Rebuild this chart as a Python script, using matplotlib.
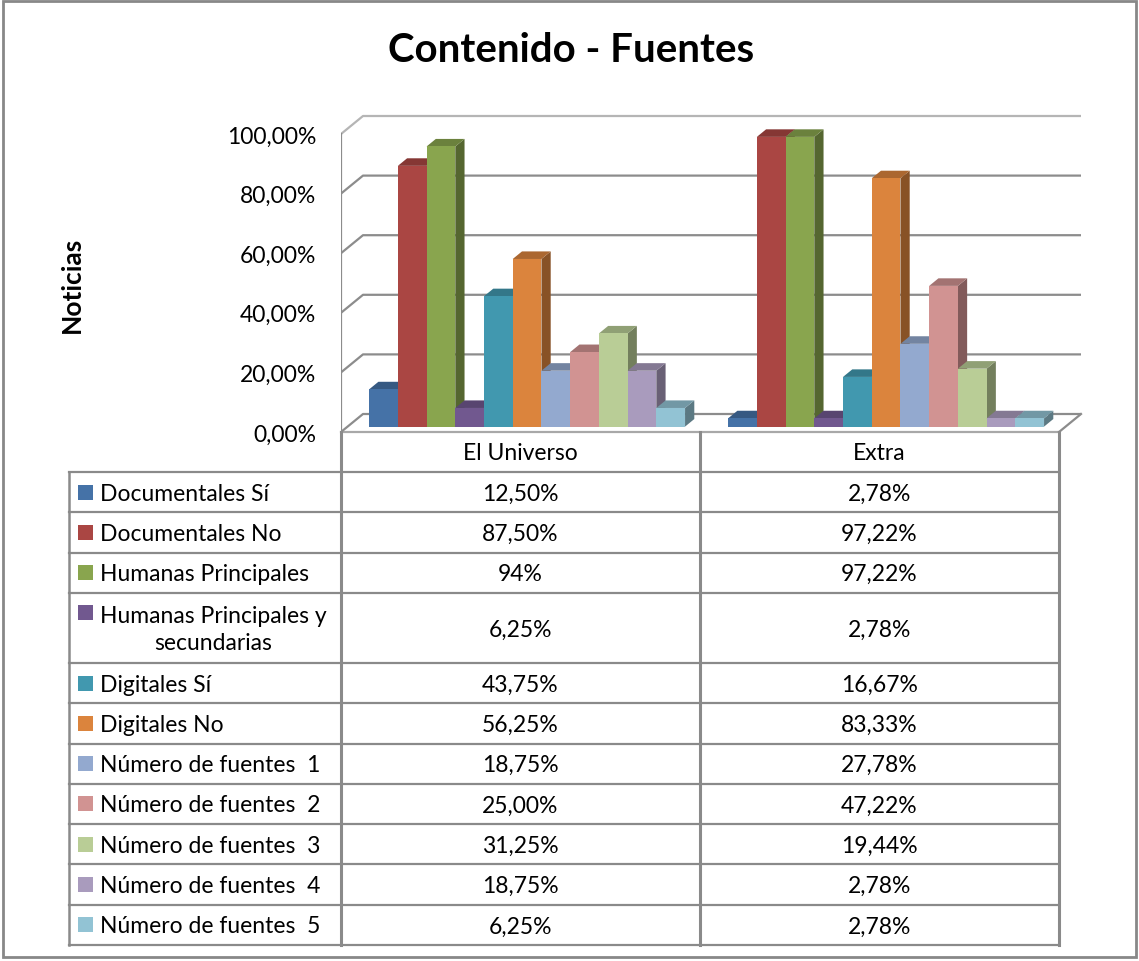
import numpy as np
import matplotlib.pyplot as plt
from matplotlib.patches import Polygon, Rectangle
from matplotlib.colors import to_rgb

plt.rcParams['font.family'] = ['Lato', 'DejaVu Sans']

# datos
medios = ["El Universo", "Extra"]
series = ["Documentales Sí", "Documentales No", "Humanas Principales",
          "Humanas Principales y\nsecundarias", "Digitales Sí", "Digitales No",
          "Número de fuentes  1", "Número de fuentes  2", "Número de fuentes  3",
          "Número de fuentes  4", "Número de fuentes  5"]
universo = [12.50, 87.50, 94.00, 6.25, 43.75, 56.25, 18.75, 25.00, 31.25, 18.75, 6.25]
extra = [2.78, 97.22, 97.22, 2.78, 16.67, 83.33, 27.78, 47.22, 19.44, 2.78, 2.78]
universo_txt = ["12,50%", "87,50%", "94%", "6,25%", "43,75%", "56,25%",
                "18,75%", "25,00%", "31,25%", "18,75%", "6,25%"]
extra_txt = ["2,78%", "97,22%", "97,22%", "2,78%", "16,67%", "83,33%",
             "27,78%", "47,22%", "19,44%", "2,78%", "2,78%"]
colores = ["#4572A7", "#AA4643", "#89A54E", "#71588F", "#4198AF", "#DB843D",
           "#93A9CF", "#D19392", "#B9CD96", "#A99BBD", "#92C3D4"]
yticks = [0, 20, 40, 60, 80, 100]
ytick_txt = ["0,00%", "20,00%", "40,00%", "60,00%", "80,00%", "100,00%"]

W, H = 1139, 962
GRID = "#8c8c8c"
LINE = "#8a8a8a"
FS = 16.5


def shade(c, f):
    r, g, b = to_rgb(c)
    return (r * f, g * f, b * f)


fig = plt.figure(figsize=(W / 100, H / 100), dpi=100)

# tabla y marco (coordenadas en pixeles)
tax = fig.add_axes([0, 0, 1, 1])
tax.set_xlim(0, W)
tax.set_ylim(H, 0)
tax.axis("off")
tax.add_patch(Rectangle((3, 2), W - 6, H - 6, fill=False, edgecolor="#888888", lw=2))

# grafico 3D oblicuo
px_x = 359.0   # pixeles por categoria
px_y = 2.98    # pixeles por 1 %
ax = fig.add_axes([341 / W, 1 - 440 / H, (1092 - 341) / W, (440 - 105) / H])
ax.set_xlim(-0.5, -0.5 + (1092 - 341) / px_x)
ax.set_ylim(-7 / px_y, (433 - 105) / px_y)
ax.patch.set_visible(False)
for s in ax.spines.values():
    s.set_visible(False)
ax.set_xticks([])
ax.set_yticks(yticks, ytick_txt)
ax.tick_params(axis="y", length=0, pad=18, labelsize=FS)

ox = 22 / px_x
oy = 18 / px_y

for v in yticks:
    ax.plot([-0.5, -0.5 + ox, 1.5 + ox], [v, v + oy, v + oy],
            color=GRID if v < 100 else "#b5b5b5", lw=1.6, zorder=1,
            solid_capstyle="butt")
ax.plot([-0.5, -0.5], [0, 100], color=GRID, lw=1.6, zorder=1)
ax.plot([1.5, 1.5 + ox], [0, oy], color=GRID, lw=1.6, zorder=1)

n = len(series)
w = 0.88 / n
d0, d1 = 0.3, 0.72
dd = d1 - d0
for g, vals in enumerate([universo, extra]):
    xs = g + (np.arange(n) - (n - 1) / 2) * w + d0 * ox
    for k in range(n):
        c = colores[k]
        zo = 3 + k
        base = d0 * oy
        top = base + vals[k]
        x0, x1 = xs[k] - w / 2, xs[k] + w / 2
        ax.add_patch(Polygon([(x1, base), (x1 + dd * ox, base + dd * oy),
                              (x1 + dd * ox, top + dd * oy), (x1, top)],
                             closed=True, facecolor=shade(c, 0.62), lw=0, zorder=zo))
        ax.add_patch(Polygon([(x0, top), (x1, top), (x1 + dd * ox, top + dd * oy),
                              (x0 + dd * ox, top + dd * oy)],
                             closed=True, facecolor=shade(c, 0.78), lw=0, zorder=zo))
        ax.bar(xs[k], vals[k], width=w, bottom=base, color=c, lw=0, zorder=zo + 0.5)

# titulo y eje
fig.text(571 / W, 1 - 50 / H, "Contenido - Fuentes", ha="center", va="center",
         fontsize=29, fontweight="bold")
fig.text(72 / W, 1 - 285 / H, "Noticias", ha="center", va="center",
         rotation=90, fontsize=19, fontweight="bold")

# tabla de datos
col_x = [341, 700, 1059]
left_x = 69
head_top, head_bot = 433, 473
alturas = [70 if "\n" in s else 40.3 for s in series]
bordes = head_bot + np.concatenate([[0], np.cumsum(alturas)])

tax.plot([col_x[0], col_x[-1]], [head_top, head_top], color="#a8a8a8", lw=1.6)
for yb in bordes:
    tax.plot([left_x, col_x[-1]], [yb, yb], color=LINE, lw=1.6)
for xc in col_x:
    tax.plot([xc, xc], [head_top, bordes[-1]], color=LINE, lw=2.2)
tax.plot([left_x, left_x], [head_bot, bordes[-1]], color=LINE, lw=1.8)

for j, m in enumerate(medios):
    tax.text((col_x[j] + col_x[j + 1]) / 2, (head_top + head_bot) / 2 + 1, m,
             ha="center", va="center", fontsize=FS)

for k, s in enumerate(series):
    yt, yb = bordes[k], bordes[k + 1]
    yc = (yt + yb) / 2
    lineas = s.count("\n") + 1
    ykey = yc - (lineas - 1) * 31 / 2
    tax.add_patch(Rectangle((78, ykey - 7.5), 15, 15, facecolor=colores[k], lw=0))
    tax.text(100, yc + 1, s, ha="left", va="center", fontsize=FS,
             multialignment="center", linespacing=1.35)
    for j, txt in enumerate([universo_txt[k], extra_txt[k]]):
        tax.text((col_x[j] + col_x[j + 1]) / 2, yc + 1, txt,
                 ha="center", va="center", fontsize=FS)

fig.savefig("out.png", dpi=100)
